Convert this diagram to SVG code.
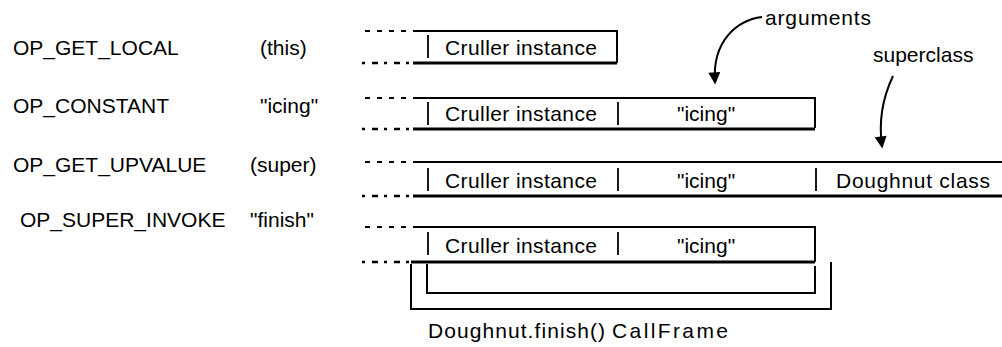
<svg xmlns="http://www.w3.org/2000/svg" width="1002" height="347" viewBox="0 0 1002 347">
<defs>
<marker id="ah" viewBox="0 0 10 10" refX="8" refY="5" markerWidth="13" markerHeight="12" orient="auto" markerUnits="userSpaceOnUse">
<path d="M0,0 L10,5 L0,10 Z" fill="#000"/>
</marker>
<style>
text{font-family:"Liberation Sans","DejaVu Sans",sans-serif;font-size:21px;fill:#000}
.ln{stroke:#000;stroke-width:2;fill:none}
.bt{stroke:#000;stroke-width:3;fill:none}
.dt{stroke:#000;stroke-width:2;fill:none;stroke-dasharray:5 7}
.db{stroke:#000;stroke-width:2.5;fill:none;stroke-dasharray:3 7 6 6}
.bar{stroke:#000;stroke-width:1.8;fill:none}
.arr{stroke:#000;stroke-width:2;fill:none}
</style>
</defs>
<rect width="1002" height="347" fill="#fff"/>

<g id="labels">
<text x="13" y="55">OP_GET_LOCAL</text>
<text x="260" y="55">(this)</text>
<text x="13" y="113">OP_CONSTANT</text>
<text x="260" y="113">"icing"</text>
<text x="13" y="172">OP_GET_UPVALUE</text>
<text x="250" y="172">(super)</text>
<text x="20" y="227">OP_SUPER_INVOKE</text>
<text x="250" y="227">"finish"</text>
</g>

<g id="stack1">
<path class="dt" d="M365,31 H413"/>
<path class="db" d="M362,63 H413"/>
<path class="ln" d="M413,31 H617 V63"/>
<path class="bt" d="M413,63 H617"/>
<path class="bar" d="M428,35 V58"/>
<text x="445" y="55" textLength="152">Cruller instance</text>
</g>

<g id="stack2">
<path class="dt" d="M365,98 H413"/>
<path class="db" d="M362,129 H413"/>
<path class="ln" d="M413,98 H815 V128"/>
<path class="bt" d="M413,129 H815"/>
<path class="bar" d="M428,102 V125"/>
<path class="bar" d="M618,102 V125"/>
<text x="445" y="121" textLength="152">Cruller instance</text>
<text x="677" y="121">"icing"</text>
</g>

<g id="stack3">
<path class="dt" d="M365,162 H413"/>
<path class="db" d="M362,196 H413"/>
<path class="ln" d="M413,162 H1002"/>
<path class="bt" d="M413,196 H1002"/>
<path class="bar" d="M428,168 V191"/>
<path class="bar" d="M618,168 V191"/>
<path class="bar" d="M816,168 V191"/>
<text x="445" y="188" textLength="152">Cruller instance</text>
<text x="677" y="188">"icing"</text>
<text x="836" y="188" textLength="154">Doughnut class</text>
</g>

<g id="stack4">
<path class="dt" d="M365,227 H413"/>
<path class="db" d="M362,262 H411"/>
<path class="ln" d="M413,227 H815 V262"/>
<path class="bt" d="M411,262 H815"/>
<path class="bar" d="M428,232 V255"/>
<path class="bar" d="M618,232 V255"/>
<text x="445" y="253" textLength="152">Cruller instance</text>
<text x="677" y="253">"icing"</text>
</g>

<g id="callframe">
<path class="ln" d="M427,264 V293 H815 V266"/>
<path class="ln" d="M411,264 V309 H831 V262"/>
<text x="428" y="338" textLength="177">Doughnut.finish()</text>
<text x="612" y="338" textLength="116">CallFrame</text>
</g>

<g id="annotations">
<text x="765" y="25" textLength="106">arguments</text>
<text x="873" y="62">superclass</text>
</g>

<g id="connectors">
<path class="arr" d="M762,17 C738,20 712,40 715,82" marker-end="url(#ah)"/>
<path class="arr" d="M893,76 C884,95 878,118 882,146" marker-end="url(#ah)"/>
</g>
</svg>
